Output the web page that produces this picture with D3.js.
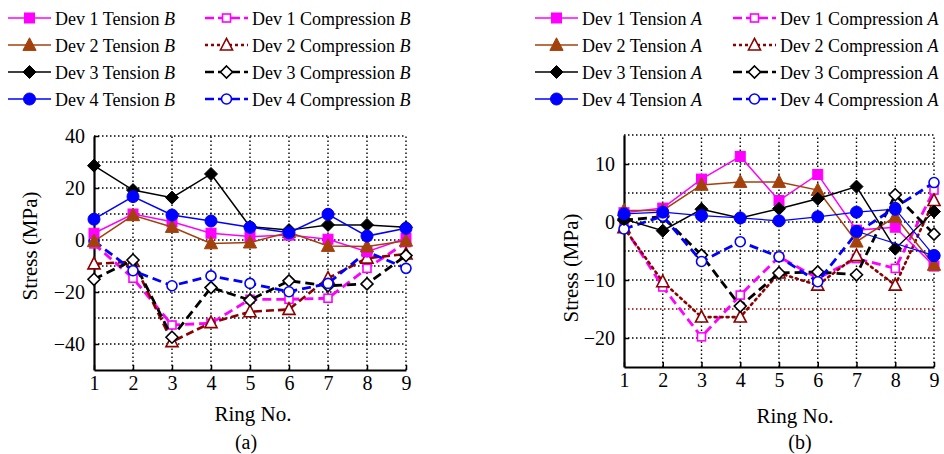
<!DOCTYPE html>
<html>
<head>
<meta charset="utf-8">
<script src="https://cdn.jsdelivr.net/npm/d3@7"></script>
<style>
  body { margin: 0; background: #fff; }
  svg { display: block; }
  svg text { font-family: "Liberation Serif", "Tinos", "Times New Roman", Times, "DejaVu Serif", serif; }
</style>
</head>
<body>
<svg id="chart" width="944" height="454"></svg>
<script>
// ring numbers along the x axis
const rings = [1, 2, 3, 4, 5, 6, 7, 8, 9];

// panel (a): side B
const tensionB1 = [2.6, 10, 7, 2.6, 1.3, 1.9, 0.3, -4.5, 0.7];
const tensionB2 = [-0.5, 9.5, 5, -1.3, -1, 3, -2.3, -2.5, -0.3];
const tensionB3 = [28.6, 19.2, 16.3, 25.4, 5.1, 3.8, 5.8, 5.8, 4.9];
const tensionB4 = [8, 16.7, 9.6, 7.3, 4.9, 2.8, 9.9, 1.5, 4.5];
const compressionB1 = [-1.5, -14.7, -32.7, -32, -22.8, -22.8, -22.4, -10.9, -1];
const compressionB2 = [-9.2, -8.3, -39.1, -31.8, -27.6, -26.7, -14.7, -7, -5.4];
const compressionB3 = [-15.1, -7.7, -37.4, -18.3, -23.1, -15.7, -17.6, -16.9, -6];
const compressionB4 = [-0.4, -11.8, -17.6, -13.8, -16.7, -19.9, -16.7, -4.5, -10.9];

// panel (b): side A
const tensionA1 = [1.6, 2.4, 7.4, 11.3, 3.7, 8.2, -1.4, -0.9, -7.6];
const tensionA2 = [2, 2, 6.4, 6.9, 6.9, 5.5, -3.4, 0.9, -7.4];
const tensionA3 = [0.5, -1.5, 2.2, 0.7, 2.3, 4, 6.1, -4.6, 1.8];
const tensionA4 = [1.4, 1.7, 1.1, 0.7, 0.2, 0.9, 1.7, 2.2, -5.8];
const tensionA4Extra = [null, null, null, null, null, null, -1.6, null, -5.8];
const compressionA1 = [-0.8, -11.2, -19.8, -12.6, -6, -9.7, -6.3, -8, 5.5];
const compressionA2 = [-1, -10.3, -16.4, -16.4, -8.8, -10.9, -5.8, -10.9, 3.7];
const compressionA3 = [0.3, 0.9, -5.7, -14.5, -8.8, -8.6, -9.1, 4.7, -2.1];
const compressionA4 = [-1.2, 1, -6.8, -3.4, -6, -10.3, -1.9, 2.5, 6.8];

const yTicksB = [-40, -20, 0, 20, 40];
const yTicksA = [-20, -10, 0, 10];

const svg = d3.select('svg#chart');

const MAGENTA = '#ff00ff', BROWN = '#a3400c', DKRED = '#8b0000', BLUE = '#0000ff', BLACK = '#000';

function styles(panel) {
  return [
    {name: 'Dev 1 Tension', color: MAGENTA, dash: null, width: 1.5, shape: 'square', open: false},
    {name: 'Dev 2 Tension', color: BROWN, dash: null, width: 1.5, shape: 'triangle', open: false},
    {name: 'Dev 3 Tension', color: BLACK, dash: null, width: 1.5, shape: 'diamond', open: false},
    {name: 'Dev 4 Tension', color: BLUE, dash: null, width: panel === 'b' ? 1.2 : 1.5, shape: 'circle', open: false},
    {name: 'Dev 1 Compression', color: MAGENTA, dash: '9,5', width: 2.8, shape: 'square', open: true},
    {name: 'Dev 2 Compression', color: DKRED, dash: panel === 'b' ? '2,4' : '8,4', width: 2.6, shape: 'triangle', open: true, legendDash: '3,3'},
    {name: 'Dev 3 Compression', color: BLACK, dash: '9,5', width: 2.8, shape: 'diamond', open: true},
    {name: 'Dev 4 Compression', color: BLUE, dash: '9,5', width: 2.8, shape: 'circle', open: true}
  ];
}

function marker(sel, st) {
  const s = st.open ? 8 : 10;
  let m;
  if (st.shape === 'circle') {
    m = sel.append('circle').attr('r', st.open ? 5 : 6);
  } else if (st.shape === 'square') {
    m = sel.append('rect').attr('x', -s / 2).attr('y', -s / 2).attr('width', s).attr('height', s);
  } else if (st.shape === 'triangle') {
    const h = st.open ? 11 : 12;
    m = sel.append('path').attr('d', `M0,${-h * 0.6}L${h * 0.55},${h * 0.45}L${-h * 0.55},${h * 0.45}Z`);
  } else {
    const h = st.open ? 6 : 6.5;
    m = sel.append('path').attr('d', `M0,${-h}L${h},0L0,${h}L${-h},0Z`);
  }
  m.attr('fill', st.open ? '#fff' : st.color)
    .attr('stroke', st.color)
    .attr('stroke-width', st.open ? 1.6 : 1);
}

function panel(cfg) {
  const x = d3.scaleLinear().domain([1, 9]).range(cfg.xRange);
  const y = d3.scaleLinear().domain(cfg.yDomain).range(cfg.yRange);
  const g = svg.append('g');

  // dotted grid
  d3.range(cfg.yDomain[0] + cfg.gridStep, cfg.yDomain[1] + 0.01, cfg.gridStep).forEach(v => {
    g.append('line')
      .attr('x1', x(1)).attr('x2', x(9)).attr('y1', y(v)).attr('y2', y(v))
      .attr('stroke', cfg.redGrid === v ? DKRED : '#000')
      .attr('stroke-width', 1.4).attr('stroke-dasharray', '1.5,2.5');
  });
  rings.slice(1).forEach(r => {
    g.append('line')
      .attr('x1', x(r)).attr('x2', x(r)).attr('y1', y(cfg.yDomain[0])).attr('y2', y(cfg.yDomain[1]))
      .attr('stroke', '#000').attr('stroke-width', 1.4).attr('stroke-dasharray', '1.5,2.5');
  });

  // axes
  const ax = g.append('g')
    .attr('transform', `translate(0,${y(cfg.yDomain[0])})`)
    .call(d3.axisBottom(x).tickValues(rings).tickFormat(d3.format('d')).tickSizeInner(-5).tickSizeOuter(0).tickPadding(6));
  const ay = g.append('g')
    .attr('transform', `translate(${x(1)},0)`)
    .call(d3.axisLeft(y).tickValues(cfg.yTicks).tickSizeInner(-5).tickSizeOuter(0).tickPadding(9));
  [ax, ay].forEach(a => {
    a.attr('font-family', null);
    a.select('.domain').attr('stroke-width', 2.2);
    a.selectAll('.tick line').attr('stroke-width', 1.5);
    a.selectAll('text').attr('font-size', 20).attr('fill', '#000');
  });

  // series
  const sts = styles(cfg.id);
  const order = [4, 5, 6, 7, 0, 1, 2, 3];
  order.forEach(i => {
    const st = sts[i];
    const vals = cfg.series[i];
    const pts = rings.map((r, k) => ({r, v: vals[k]}));
    const line = d3.line().defined(d => d.v != null).x(d => x(d.r)).y(d => y(d.v));
    g.append('path').datum(pts)
      .attr('d', line).attr('fill', 'none')
      .attr('stroke', st.color).attr('stroke-width', st.width)
      .attr('stroke-dasharray', st.dash)
      .attr('stroke-linecap', st.dash && st.dash.startsWith('2') ? 'round' : 'butt');
    pts.filter(d => d.v != null).forEach(d => {
      marker(g.append('g').attr('transform', `translate(${x(d.r)},${y(d.v)})`), st);
    });
    if (cfg.extra && i === 3) {
      const ep = rings.map((r, k) => ({r, v: cfg.extra[k]}));
      g.append('path').datum(ep.filter(d => d.v != null))
        .attr('d', d3.line().x(d => x(d.r)).y(d => y(d.v)))
        .attr('fill', 'none').attr('stroke', st.color).attr('stroke-width', st.width);
      ep.filter(d => d.v != null).forEach(d => {
        marker(g.append('g').attr('transform', `translate(${x(d.r)},${y(d.v)})`), st);
      });
    }
  });

  // axis titles
  g.append('text')
    .attr('transform', `translate(${cfg.yTitleX},${cfg.yTitleY}) rotate(-90)`)
    .attr('text-anchor', 'middle').attr('font-size', 21).text('Stress (MPa)');
  g.append('text').attr('x', cfg.xTitleX).attr('y', cfg.xTitleY)
    .attr('text-anchor', 'middle').attr('font-size', 21).text('Ring No.');
  g.append('text').attr('x', cfg.capX).attr('y', 449)
    .attr('text-anchor', 'middle').attr('font-size', 20).text(cfg.caption);

  // legend
  const lg = svg.append('g');
  sts.forEach((st, i) => {
    const col = i < 4 ? 0 : 1;
    const row = i % 4;
    const x0 = cfg.legendX[col];
    const cy = 18 + row * 27;
    const gi = lg.append('g').attr('transform', `translate(${x0},${cy})`);
    gi.append('line').attr('x1', 0).attr('x2', 43).attr('y1', 0).attr('y2', 0)
      .attr('stroke', st.color).attr('stroke-width', st.open ? 2.6 : 1.6)
      .attr('stroke-dasharray', st.legendDash || (st.dash ? '9,4' : null));
    marker(gi.append('g').attr('transform', 'translate(21.5,0)'), st);
    const t = gi.append('text').attr('x', 47).attr('y', 7).attr('font-size', 18).text(st.name + ' ');
    t.append('tspan').attr('font-style', 'italic').text(cfg.side);
  });
}

panel({
  id: 'a', side: 'B',
  xRange: [94, 406], yDomain: [-50, 40], yRange: [370, 136], gridStep: 10, yTicks: yTicksB,
  series: [tensionB1, tensionB2, tensionB3, tensionB4, compressionB1, compressionB2, compressionB3, compressionB4],
  yTitleX: 37, yTitleY: 246, xTitleX: 253, xTitleY: 421, capX: 246, caption: '(a)',
  legendX: [8, 205]
});

panel({
  id: 'b', side: 'A',
  xRange: [624, 934], yDomain: [-25, 15], yRange: [367, 135], gridStep: 5, yTicks: yTicksA, redGrid: -15,
  series: [tensionA1, tensionA2, tensionA3, tensionA4, compressionA1, compressionA2, compressionA3, compressionA4],
  extra: tensionA4Extra,
  yTitleX: 578, yTitleY: 268, xTitleX: 795, xTitleY: 423, capX: 800, caption: '(b)',
  legendX: [535, 733]
});
</script>
</body>
</html>
